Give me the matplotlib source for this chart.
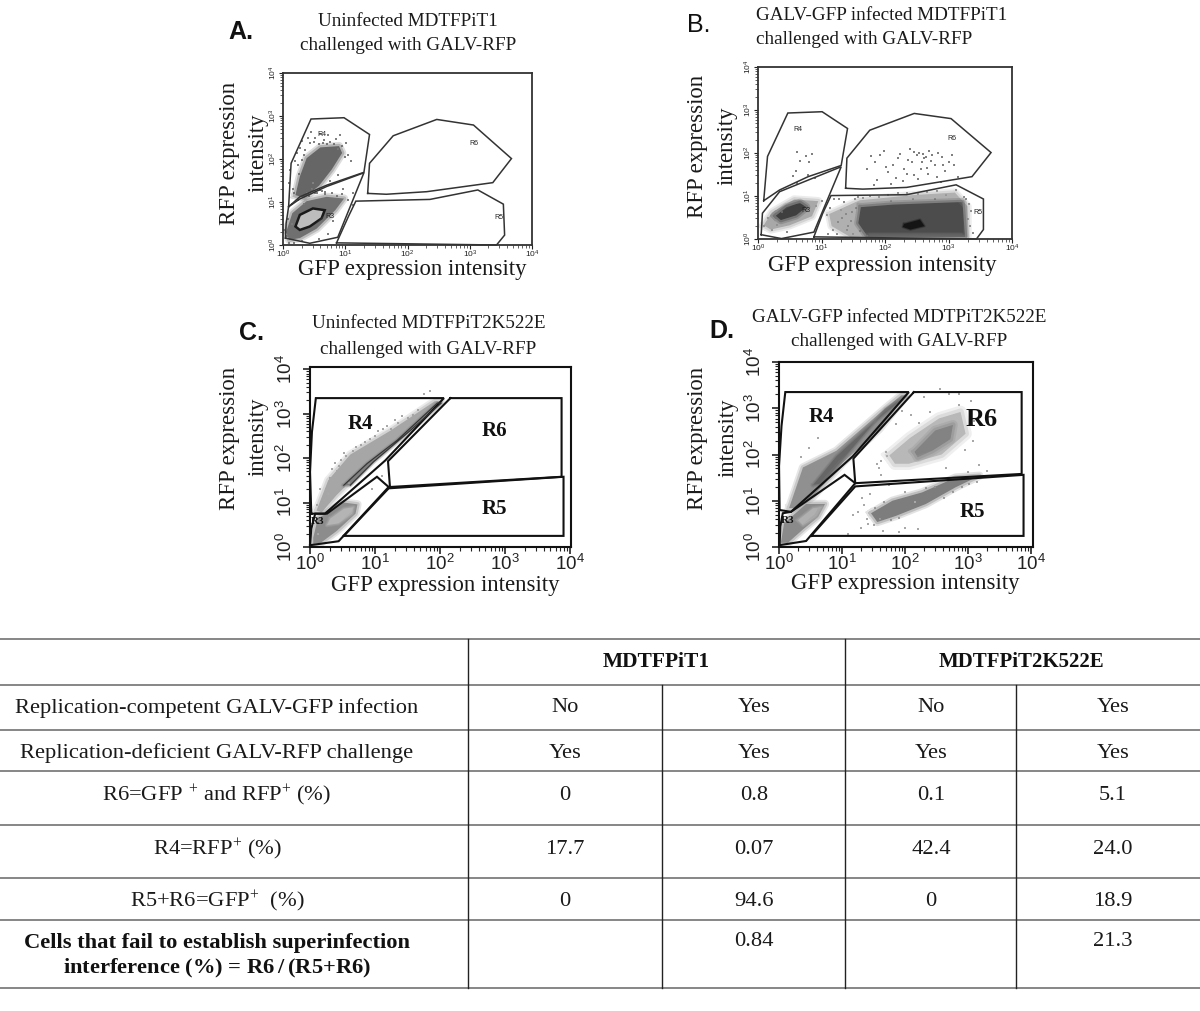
import matplotlib
matplotlib.use("Agg")
import matplotlib.pyplot as plt
import numpy as np
from matplotlib.ticker import LogLocator, NullFormatter

plt.rcParams["font.family"] = ["Liberation Serif", "DejaVu Serif"]
plt.rcParams["mathtext.default"] = "regular"

W, H = 1200, 1011

# gates, clouds and dots are [log10 GFP, log10 RFP]
a_r4 = [[.09, .13, .45, .98, 1.39, 1.30, .70, .27, .09], [.89, 1.90, 2.93, 2.96, 2.57, 1.69, 1.39, 1.12, .89]]
a_r3 = [[.04, .05, .09, .27, .70, 1.30, .88, .43, .04], [.16, .50, .89, 1.07, 1.36, 1.68, .18, .04, .16]]
a_r6 = [[1.36, 1.39, 1.77, 2.47, 3.06, 3.67, 3.37, 2.31, 1.66, 1.36], [1.20, 1.90, 2.54, 2.92, 2.79, 2.01, 1.45, 1.24, 1.18, 1.20]]
a_r5 = [[.86, 1.05, 1.17, 2.36, 3.13, 3.54, 3.56, 3.43, .86], [.05, .66, 1.02, 1.06, 1.28, .95, .23, 0, .05]]

b_r4 = [[.09, .15, .47, 1.01, 1.41, 1.31, .79, .34, .09], [.89, 1.92, 2.93, 2.96, 2.57, 1.71, 1.45, 1.14, .89]]
b_r3 = [[.05, .07, .34, .79, 1.31, .88, .37, .05], [.10, .60, 1.10, 1.37, 1.68, .16, .01, .10]]
b_r6 = [[1.38, 1.40, 1.76, 2.46, 3.04, 3.67, 3.37, 2.34, 1.65, 1.38], [1.18, 1.88, 2.53, 2.92, 2.80, 2.01, 1.45, 1.20, 1.16, 1.18]]
b_r5 = [[.88, 1.02, 1.15, 2.34, 3.12, 3.55, 3.55, 3.44, .88], [.05, .60, 1.01, 1.03, 1.26, .93, .22, 0, .05]]

c_r4 = [[.02, 0, .03, .09, 2.06, 1.16, .23, .02], [.75, 1.69, 2.59, 3.35, 3.35, 1.95, .75, .75]]
c_r3 = [[0, .44, 1.21, 1.03, .26, .08, .02, 0], [.04, .13, 1.35, 1.58, .75, .75, .41, .04]]
c_r6 = [[2.16, 3.87, 3.87, 1.23, 1.20, 2.16], [3.35, 3.35, 1.58, 1.35, 1.93, 3.35]]
c_r5 = [[.52, 1.21, 3.90, 3.90, .52], [.25, 1.32, 1.58, .25, .25]]

d_r4 = [[.01, 0, .04, .10, 2.06, 1.17, .19, .01], [.80, 1.75, 2.62, 3.35, 3.35, 1.96, .76, .80]]
d_r3 = [[.01, .43, 1.21, 1.04, .19, .06, .02, .01], [.04, .13, 1.38, 1.56, .76, .73, .44, .04]]
d_r6 = [[2.14, 3.85, 3.85, 1.21, 1.18, 2.14], [3.35, 3.35, 1.58, 1.38, 1.91, 3.35]]
d_r5 = [[.51, 1.21, 3.88, 3.88, .51], [.24, 1.31, 1.56, .24, .24]]

a_cloud_r4 = [[.20, .27, .38, .60, .90, .95, .78, .58, .34], [1.16, 1.59, 2.02, 2.27, 2.30, 2.14, 1.75, 1.38, 1.10]]
a_cloud_r3 = [[.05, .15, .38, .70, .98, .84, .54, .27, .10], [.30, .74, 1.02, 1.12, 1.08, .81, .38, .16, .12]]
a_core = [[.20, .27, .48, .67, .62, .43, .27], [.43, .70, .85, .81, .62, .43, .35]]
a_dots = [[.10, .12, .16, .20, .22, .28, .31, .34, .40, .45, .52, .60, .66, .72, .85, .92, 1.02, 1.05, 1.10, .14, .26, .38, .48, .75, .88, .96, 1.12, .30, .18, .08,
           .24, .30, .36, .44, .50, .58, .64, .70, .76, .82, .88, .94, 1.00, .46, .54, .62, .68, .18, .24, .34, .42, .52, .60, .68, .78, .86, .94, 1.04, 1.12, .02, .06, .10, .14, .58, .72, .80],
          [1.45, 1.75, 1.30, 1.95, 2.15, 2.25, 2.42, 2.10, 2.50, 2.62, 2.48, 2.58, 2.45, 2.56, 2.47, 2.55, 2.38, 2.10, 1.95, .95, 1.65, 1.20, 1.45, 1.50, 1.62, 1.30, 1.22, .10, .05, .60,
           1.85, 1.98, 2.20, 2.38, 2.40, 2.34, 2.38, 2.36, 2.40, 2.34, 2.24, 2.30, 2.05, 1.30, 1.22, 1.26, 1.18, 1.20, 1.05, .95, 1.14, 1.22, 1.28, 1.24, 1.22, 1.14, 1.18, 1.05, .92, .35, .20, .05, .48, .15, .25, .55]]

b_cloud_r3 = [[.09, .22, .57, .95, .85, .50, .20], [.32, .62, .92, .88, .53, .32, .22]]
b_core_r3 = [[.28, .45, .66, .76, .60, .36], [.54, .74, .84, .74, .55, .44]]
b_cloud_r5 = [[1.12, 1.60, 2.44, 3.10, 3.30, 3.30, 1.45, 1.16], [.58, .90, 1.02, 1.08, .76, .05, .05, .30]]
b_core_r5 = [[1.62, 2.13, 3.22, 3.26, 1.73, 1.58], [.74, .80, .86, .05, .05, .37]]
b_dark_r5 = [[2.30, 2.55, 2.62, 2.40, 2.28], [.35, .45, .30, .22, .28]]
b_dots = [[.62, .66, .60, .78, .90, .62, .75, .80, .85, .55,
           1.78, 1.85, 1.92, 1.98, 2.05, 2.12, 2.18, 2.24, 2.30, 2.36, 2.40, 2.46, 2.50, 2.54, 2.58, 2.62, 2.66, 2.70, 2.74, 2.78, 2.84, 2.90, 2.95, 3.00, 3.08, 3.15,
           1.72, 1.88, 2.02, 2.20, 2.28, 2.42, 2.52, 2.60, 2.68, 2.82, 2.92, 3.05, 1.82, 2.10, 2.34, 2.46, 2.56, 2.64, 2.72, 2.88],
          [2.02, 1.82, 1.58, 1.50, 1.42, 1.30, 1.92, 1.80, 1.98, 1.46,
           1.92, 1.80, 1.95, 2.05, 1.55, 1.72, 1.42, 1.98, 1.62, 1.84, 2.10, 1.50, 1.95, 2.00, 1.78, 1.88, 1.65, 2.05, 1.95, 1.72, 2.00, 1.90, 1.58, 1.80, 1.72, 1.45,
           1.62, 1.38, 1.68, 1.88, 1.34, 1.78, 1.40, 1.98, 1.52, 1.44, 1.72, 1.95, 1.25, 1.28, 1.52, 2.02, 1.62, 1.90, 1.82, 1.32]]
b_dots_low = [[.10, .16, .22, .30, .38, .46, .92, 1.00, 1.08, 1.14, 1.20, 1.26, 1.30, 1.36, 1.42, 1.48, 1.54, 1.18, 1.24, 1.32, 1.40, 1.46, 1.52, 1.10, 1.28, 1.38, 1.50, 1.58, 1.66, 1.76, 1.90, 2.04, 2.20, 2.34, 2.52, 2.66, 2.82, 2.96, 3.12, 3.24, 3.32, 3.36, 3.30, 3.34, 3.38, 3.28, 1.60, 1.72, 2.10, 2.44, 2.78],
              [.30, .50, .22, .32, .62, .16, .76, .88, .55, .72, .92, .40, .68, .85, .30, .62, .72, .22, .12, .50, .20, .42, .92, .12, .94, .58, .12, .98, .96, 1.00, .98, 1.02, 1.06, 1.08, 1.04, 1.10, 1.12, 1.02, 1.14, .98, .82, .66, .46, .30, .14, .92, .18, .08, .88, .92, .94]]

c_band = [[.10, .28, .62, 1.24, 1.92, 2.02, 1.65, .93, .41, .18], [.82, 1.50, 2.08, 2.62, 3.28, 3.28, 2.78, 1.92, 1.17, .78]]
c_band_core = [[.52, .88, 1.34, 1.96, 2.02, 1.55, .98, .62], [1.39, 1.88, 2.40, 3.24, 3.24, 2.63, 1.92, 1.39]]
c_cloud_r3 = [[.05, .12, .52, .73, .70, .41, .17, .05], [.21, .64, 1.00, .96, .75, .36, .10, .07]]
c_core = [[.31, .52, .67, .65, .44, .26], [.64, .86, .90, .75, .53, .49]]
c_dots = [[.15, .22, .30, .34, .42, .48, .55, .60, .70, .78, .92, 1.05, 1.18, 1.30, 1.42, .10, .28, .38, 1.75, 1.85, .05, .12, .95, 1.10, .36, .44, .52, .66, .74, .84, 1.00, 1.12, 1.24, 1.36, 1.50, 1.58, 1.66],
          [1.30, 1.05, 1.55, 1.75, 1.70, 1.95, 2.05, 1.45, 2.25, 2.30, 2.42, 2.60, 2.72, 2.85, 2.95, .95, 1.20, 1.90, 3.45, 3.52, .60, .30, 1.30, 1.60, 1.50, 1.82, 2.12, 2.16, 2.12, 2.36, 2.50, 2.66, 2.66, 2.78, 2.90, 2.96, 3.08]]

d_band = [[.16, .38, .91, 1.69, 1.94, 2.02, 1.59, 1.01, .54, .24], [.84, 1.72, 2.08, 3.00, 3.28, 3.28, 2.55, 1.82, 1.09, .84]]
d_band_core = [[.54, .91, 1.38, 2.01, 1.69, 1.01, .69], [1.34, 1.96, 2.55, 3.26, 2.98, 1.89, 1.38]]
d_cloud_r3 = [[.03, .08, .43, .73, .62, .38, .14], [.09, .51, .93, .93, .65, .38, .09]]
d_core = [[.30, .54, .69, .59, .38], [.58, .84, .87, .65, .47]]
d_cloud_r6 = [[1.75, 2.08, 2.54, 2.88, 2.96, 2.58, 2.06, 1.84], [1.98, 2.36, 2.78, 2.92, 2.45, 2.00, 1.80, 1.80]]
d_core_r6 = [[2.15, 2.48, 2.76, 2.72, 2.43, 2.20], [2.06, 2.52, 2.64, 2.33, 2.08, 1.94]]
d_cloud_r5 = [[1.46, 1.80, 2.27, 2.80, 3.18, 2.80, 2.33, 1.85, 1.56], [.73, 1.00, 1.18, 1.50, 1.54, 1.29, .93, .67, .54]]
d_dots = [[1.55, 1.62, 1.70, 1.40, 1.30, 1.25, 1.45, 1.58, 1.75, 1.85, 1.95, 2.95, 3.08, 3.18, 3.05, 2.30, 2.55, 2.70, 1.65, 1.10, 1.18, 1.32, .48, .62, .35, 1.50, 3.30, 3.00, 2.85, 1.90, 2.00, 2.20, 1.60, 2.65, 2.10, 1.35, 1.42, 1.52, 1.66, 1.78, 1.90, 2.00, 2.15, 2.34, 2.48, 2.62, 2.76, 2.90, 3.02, 3.14, 1.62, 1.72, 2.22, 2.40, 2.85, 3.10],
          [1.80, 1.55, 2.05, .60, .42, .75, 1.15, 1.70, 1.35, 2.65, 2.95, 2.10, 2.30, 1.78, 3.15, 3.25, 3.42, 3.30, .35, .28, .70, 1.05, 2.15, 2.35, 1.95, .48, 1.65, 1.62, 3.30, .32, .42, .38, .60, 1.70, 2.85, .90, .50, .85, .98, .58, .62, 1.20, .98, 1.28, 1.30, 1.05, 1.18, 1.30, 1.36, 1.40, 1.85, 1.96, 2.68, 2.92, 3.08, 2.72]]

panel_letters = ["A.", "B.", "C.", "D."]
region_names = ["R3", "R4", "R5", "R6"]

table_header = ["MDTFPiT1", "MDTFPiT2K522E"]
row_labels = ["Replication-competent GALV-GFP infection", "Replication-deficient GALV-RFP challenge",
              "R6=GFP $^{+}$ and RFP$^{+}$ (%)", "R4=RFP$^{+}$ (%)", "R5+R6=GFP$^{+}$  (%)"]
col_t1_no = ["No", "Yes", "0", "17.7", "0", ""]
col_t1_yes = ["Yes", "Yes", "0.8", "0.07", "94.6", "0.84"]
col_t2_no = ["No", "Yes", "0.1", "42.4", "0", ""]
col_t2_yes = ["Yes", "Yes", "5.1", "24.0", "18.9", "21.3"]
last_row_lines = ["Cells that fail to establish superinfection", "interference (%) = R6$\\,$/$\\,$(R5+R6)"]

fig = plt.figure(figsize=(W / 100, H / 100), dpi=100)
page = fig.add_axes([0, 0, 1, 1])
page.set_xlim(0, W)
page.set_ylim(H, 0)
page.axis("off")


def put(x, y, s, size=13.8, **kw):
    kw.setdefault("ha", "center")
    kw.setdefault("va", "center")
    page.text(x, y, s, fontsize=size, color=kw.pop("color", "#1a1a1a"), **kw)


def panelAxes(left, right, top, bottom, xmax, ymax, big):
    ax = fig.add_axes([left / W, 1 - bottom / H, (right - left) / W, (bottom - top) / H])
    ax.set_xscale("log")
    ax.set_yscale("log")
    ax.set_xlim(1, 10.0 ** xmax)
    ax.set_ylim(1, 10.0 ** ymax)
    ax.patch.set_alpha(0)
    for a in (ax.xaxis, ax.yaxis):
        a.set_major_locator(LogLocator(base=10, numticks=6))
        a.set_minor_locator(LogLocator(base=10, subs=np.arange(2, 10), numticks=6))
        a.set_minor_formatter(NullFormatter())
    size = 13.5 if big else 6
    for sp in ax.spines.values():
        sp.set_linewidth(1.5 if big else 1.3)
        sp.set_color("#111111" if big else "#333333")
    ax.tick_params(axis="both", which="major", length=5 if big else 3, width=1.2 if big else .8,
                   labelsize=size, pad=0, colors="#222222")
    ax.tick_params(axis="y", which="major", pad=5 if big else 0)
    ax.tick_params(axis="both", which="minor", length=3 if big else 2, width=.8 if big else .5, colors="#222222")
    for t in ax.get_xticklabels() + ax.get_yticklabels():
        t.set_fontfamily(["Liberation Sans", "DejaVu Sans"])
    for t in ax.get_yticklabels():
        t.set_rotation(90)
        t.set_va("center")
    return ax


def blob(ax, pts, color, soft=6):
    xs = 10.0 ** np.array(pts[0])
    ys = 10.0 ** np.array(pts[1])
    ax.fill(xs, ys, color=color, lw=0)
    # feathered rim so the cloud has no hard polygon edge
    for lw, alpha in [(soft, .22), (soft * .55, .35)]:
        ax.plot(np.append(xs, xs[0]), np.append(ys, ys[0]), color=color, lw=lw, alpha=alpha, solid_joinstyle="round")


def gate(ax, pts, lw=1.1, color="#333333"):
    ax.plot(10.0 ** np.array(pts[0]), 10.0 ** np.array(pts[1]), color=color, lw=lw, clip_on=False, solid_joinstyle="miter")


def dots(ax, pts, color="#777777", s=2.5):
    ax.scatter(10.0 ** np.array(pts[0]), 10.0 ** np.array(pts[1]), marker="s", s=s, color=color, lw=0)


def labels(ax, xs, ys, big):
    for name, x, y in zip(region_names, xs, ys):
        if big:
            ax.text(10 ** x, 10 ** y, name, fontsize=15, fontweight="bold", ha="center", va="center", color="#111111")
        else:
            ax.text(10 ** x, 10 ** y, name, fontsize=5, ha="center", va="center", color="#222222",
                    family=["Liberation Sans", "DejaVu Sans"])


# panel A
ax = panelAxes(283, 532, 73, 245, 4, 4, False)
blob(ax, a_cloud_r4, "#666666")
blob(ax, a_cloud_r3, "#707070")
dots(ax, a_dots, "#808080")
ax.fill(10.0 ** np.array(a_core[0]), 10.0 ** np.array(a_core[1]), facecolor="#bdbdbd", edgecolor="#1a1a1a", lw=1.8)
for g in (a_r4, a_r3, a_r6, a_r5):
    gate(ax, g)
labels(ax, [.75, .62, 3.46, 3.06], [.67, 2.57, .63, 2.36], False)

# panel B
ax = panelAxes(758, 1012, 67, 239, 4, 4, False)
blob(ax, b_cloud_r3, "#a8a8a8")
blob(ax, b_core_r3, "#3f3f3f")
blob(ax, b_cloud_r5, "#b0b0b0")
blob(ax, b_core_r5, "#4c4c4c")
blob(ax, b_dark_r5, "#141414", 2)
dots(ax, b_dots, "#808080", 3)
dots(ax, b_dots_low, "#8a8a8a", 3.5)
for g in (b_r4, b_r3, b_r6, b_r5):
    gate(ax, g)
labels(ax, [.75, .63, 3.47, 3.06], [.66, 2.55, .62, 2.33], False)

# panel C
ax = panelAxes(310, 571, 367, 547, 4.015, 4.05, True)
blob(ax, c_band, "#a6a6a6")
blob(ax, c_band_core, "#6c6c6c", 3)
blob(ax, c_cloud_r3, "#8c8c8c")
blob(ax, c_core, "#b4b4b4", 3)
dots(ax, c_dots, "#a8a8a8", 3)
for g in (c_r4, c_r3, c_r6, c_r5):
    gate(ax, g, 1.5, "#111111")
gate(ax, c_band_core, .8, "#333333")
labels(ax, [.11, .78, 2.83, 2.83], [.58, 2.76, .86, 2.61], True)
ax.texts[0].set_fontsize(8)

# panel D
ax = panelAxes(779, 1033, 362, 547, 4.03, 4, True)
blob(ax, d_band, "#909090")
blob(ax, d_band_core, "#666666", 3)
blob(ax, d_cloud_r3, "#8a8a8a")
blob(ax, d_core, "#b0b0b0", 3)
blob(ax, d_cloud_r6, "#b8b8b8", 9)
blob(ax, d_core_r6, "#838383", 7)
blob(ax, d_cloud_r5, "#7d7d7d")
dots(ax, d_dots, "#a8a8a8", 3)
for g in (d_r4, d_r3, d_r6, d_r5):
    gate(ax, g, 1.5, "#111111")
labels(ax, [.13, .68, 3.07, 3.22], [.58, 2.82, .76, 2.76], True)
ax.texts[0].set_fontsize(8)
ax.texts[3].set_fontsize(19)

# panel letters and captions
sans = ["Liberation Sans", "DejaVu Sans"]
put(241, 32, panel_letters[0], 18, family=sans, fontweight="bold", color="#111111")
put(699, 25, panel_letters[1], 18, family=sans, color="#111111")
put(252, 333, panel_letters[2], 18, family=sans, fontweight="bold", color="#111111")
put(722, 331, panel_letters[3], 18, family=sans, fontweight="bold", color="#111111")

put(408, 21, "Uninfected MDTFPiT1")
put(408, 45, "challenged with GALV-RFP")
put(756, 15, "GALV-GFP infected MDTFPiT1", ha="left")
put(756, 39, "challenged with GALV-RFP", ha="left")
put(429, 323, "Uninfected MDTFPiT2K522E")
put(428, 349, "challenged with GALV-RFP")
put(899, 318, "GALV-GFP infected MDTPiT2K522E")
put(899, 341, "challenged with GALV-RFP")

for x, y in [(412, 270), (882, 266), (445, 586), (905, 584)]:
    put(x, y, "GFP expression intensity", 16.4)
for x, y in [(229, 153), (698, 146), (229, 438), (698, 438)]:
    put(x, y, "RFP expression", 16.4, rotation=90)
for x, y in [(258, 153), (727, 146), (258, 437), (728, 438)]:
    put(x, y, "intensity", 16.4, rotation=90)

# table rules
for y in [639, 685, 730, 771, 825, 878, 920, 988]:
    page.plot([0, W], [y, y], color="#666666", lw=1.1)
page.plot([662, 662], [685, 988], color="#222222", lw=1)
page.plot([1016, 1016], [685, 988], color="#222222", lw=1)
page.plot([468, 468], [639, 988], color="#222222", lw=1)
page.plot([845, 845], [639, 988], color="#222222", lw=1)

put(656, 662, table_header[0], 15.5, fontweight="bold", color="#111111")
put(1021, 662, table_header[1], 15, fontweight="bold", color="#111111")
row_y = [708, 753, 795, 849, 901, 942]
for y, s in zip(row_y, row_labels):
    put(217, y, s, 16.2)
for y, a, b, c, d in zip(row_y, col_t1_no, col_t1_yes, col_t2_no, col_t2_yes):
    put(565, y, a, 16.2)
    put(754, y, b, 16.2)
    put(931, y, c, 16.2)
    put(1113, y, d, 16.2)
put(217, 943, last_row_lines[0], 16.2, fontweight="bold", color="#111111")
put(217, 968, last_row_lines[1], 16.2, fontweight="bold", color="#111111")

fig.savefig("out.png", dpi=100)
